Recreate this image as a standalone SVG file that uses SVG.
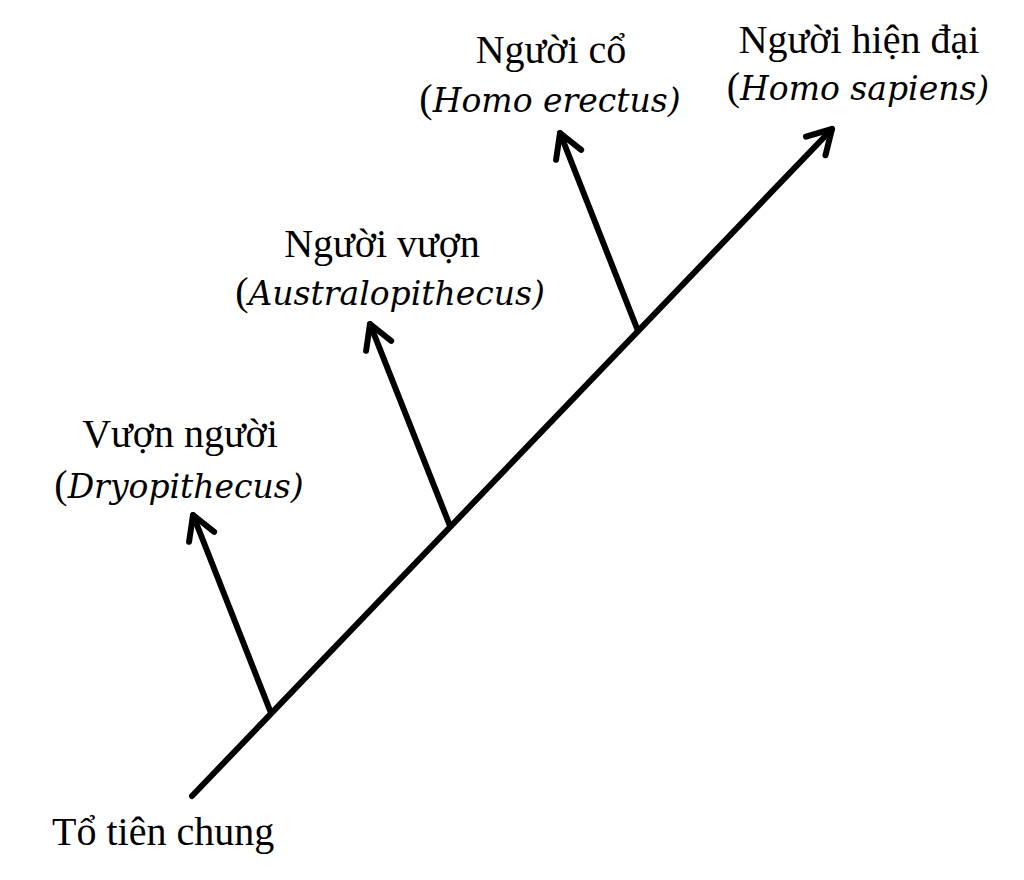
<svg xmlns="http://www.w3.org/2000/svg" width="1024" height="880" viewBox="0 0 1024 880">
<defs>
<marker id="arr" markerUnits="userSpaceOnUse" markerWidth="60" markerHeight="60" viewBox="-30 -30 60 60" refX="0" refY="0" orient="auto">
<path d="M -23.5 -13.5 L 0 0 L -23.5 13.5" fill="none" stroke="#000" stroke-width="6" stroke-linecap="round" stroke-linejoin="round"/>
</marker>
<style>
.ln{stroke:#000;stroke-width:6;fill:none;stroke-linecap:round;marker-end:url(#arr)}
.t{font-family:"Liberation Serif","Times New Roman",serif;font-size:40px;fill:#000;text-anchor:middle}
.i{font-family:"DejaVu Serif",serif;font-style:italic;font-size:33px}
</style>
</defs>
<rect width="1024" height="880" fill="#fff"/>
<g id="connectors">
<line class="ln" x1="192" y1="796" x2="832" y2="129"/>
<line class="ln" x1="271" y1="713" x2="193" y2="515"/>
<line class="ln" x1="450" y1="526" x2="370" y2="324"/>
<line class="ln" x1="638" y1="331" x2="560" y2="133"/>
</g>
<g id="root">
<text class="t" x="52" y="845" style="text-anchor:start">Tổ tiên chung</text>
</g>
<g id="dryopithecus">
<text class="t" x="180" y="447">Vượn người</text>
<text class="t" x="179" y="498">(<tspan class="i">Dryopithecus)</tspan></text>
</g>
<g id="australopithecus">
<text class="t" x="382" y="257">Người vượn</text>
<text class="t" x="390" y="305">(<tspan class="i">Australopithecus)</tspan></text>
</g>
<g id="homo-erectus">
<text class="t" x="551" y="63">Người cổ</text>
<text class="t" x="550" y="112">(<tspan class="i">Homo erectus)</tspan></text>
</g>
<g id="homo-sapiens">
<text class="t" x="859" y="53">Người hiện đại</text>
<text class="t" x="858" y="100">(<tspan class="i">Homo sapiens)</tspan></text>
</g>
</svg>
